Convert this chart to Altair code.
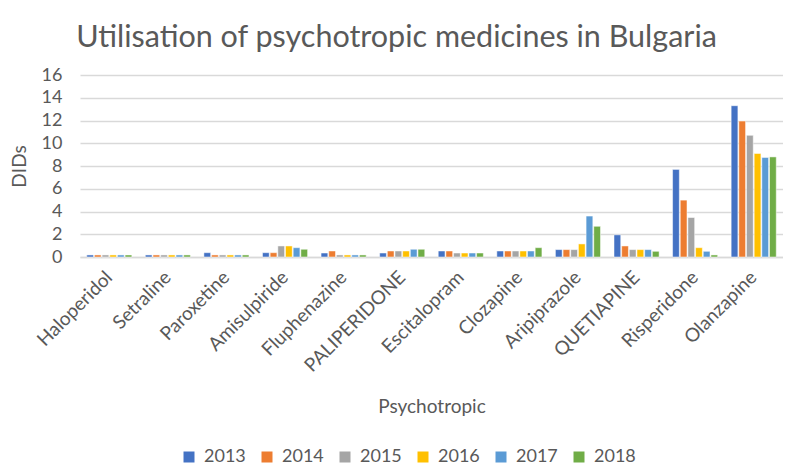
import altair as alt
import pandas as pd

drugs = ["Haloperidol", "Setraline", "Paroxetine", "Amisulpiride", "Fluphenazine",
         "PALIPERIDONE", "Escitalopram", "Clozapine", "Aripiprazole", "QUETIAPINE",
         "Risperidone", "Olanzapine"]
years = ["2013", "2014", "2015", "2016", "2017", "2018"]
v2013 = [0.18, 0.18, 0.38, 0.38, 0.35, 0.35, 0.53, 0.53, 0.65, 1.95, 7.7, 13.3]
v2014 = [0.18, 0.18, 0.18, 0.38, 0.53, 0.53, 0.53, 0.53, 0.65, 0.97, 5.0, 11.95]
v2015 = [0.18, 0.18, 0.18, 0.97, 0.18, 0.53, 0.35, 0.53, 0.65, 0.65, 3.47, 10.7]
v2016 = [0.18, 0.18, 0.18, 0.97, 0.18, 0.53, 0.35, 0.53, 1.15, 0.65, 0.82, 9.1]
v2017 = [0.18, 0.18, 0.18, 0.82, 0.18, 0.68, 0.35, 0.53, 3.6, 0.65, 0.5, 8.75]
v2018 = [0.18, 0.18, 0.18, 0.68, 0.18, 0.68, 0.35, 0.82, 2.7, 0.5, 0.18, 8.8]
colors = ["#4472C4", "#ED7D31", "#A5A5A5", "#FFC000", "#5B9BD5", "#70AD47"]

rows = []
for y, vals in zip(years, [v2013, v2014, v2015, v2016, v2017, v2018]):
    for d, v in zip(drugs, vals):
        rows.append({"drug": d, "year": y, "value": v})
df = pd.DataFrame(rows)

FONT = "Lato"
GRAY = "#595959"

chart = alt.Chart(df).mark_bar(stroke="white", strokeWidth=0.5).encode(
    x=alt.X("drug:N", sort=drugs,
            scale=alt.Scale(paddingInner=0.23, paddingOuter=0.115),
            axis=alt.Axis(title="Psychotropic", labelAngle=-45, labelAlign="right",
                          labelBaseline="middle", labelFontSize=19, labelColor=GRAY,
                          labelFont=FONT, ticks=False, domainColor="#d9d9d9",
                          domainWidth=1.5, labelPadding=17, titleFont=FONT,
                          titleFontSize=19, titleFontWeight="normal", titleColor=GRAY,
                          titlePadding=22, labelOverlap=False)),
    xOffset=alt.XOffset("year:N", sort=years, scale=alt.Scale(paddingInner=0.12)),
    y=alt.Y("value:Q", scale=alt.Scale(domain=[0, 16]),
            axis=alt.Axis(title="DIDs", values=list(range(0, 17, 2)), labelFontSize=18,
                          labelColor=GRAY, labelFont=FONT, ticks=False, domain=False,
                          gridColor="#d9d9d9", gridWidth=1.5, titleFont=FONT,
                          titleFontSize=19, titleFontWeight="normal", titleColor=GRAY,
                          titlePadding=12, labelPadding=18)),
    color=alt.Color("year:N", sort=years,
                    scale=alt.Scale(domain=years, range=colors),
                    legend=alt.Legend(title=None, orient="none", direction="horizontal",
                                      legendX=100, legendY=373,
                                      symbolType="square", symbolSize=121,
                                      symbolStrokeWidth=0, labelFontSize=18,
                                      labelColor=GRAY, labelFont=FONT,
                                      columnPadding=12, labelOffset=6)),
).properties(
    width=703, height=182,
    autosize=alt.AutoSizeParams(type="none"),
    padding={"left": 72, "right": 0, "top": 67, "bottom": 208},
    title=alt.Title("Utilisation of psychotropic medicines in Bulgaria",
                    font=FONT, fontSize=30.5, fontWeight="normal", color=GRAY,
                    anchor="middle", frame="group", dx=-35, offset=13),
).configure_view(stroke=None)

chart.save("out.html", embed_options={"renderer": "svg", "actions": False})
